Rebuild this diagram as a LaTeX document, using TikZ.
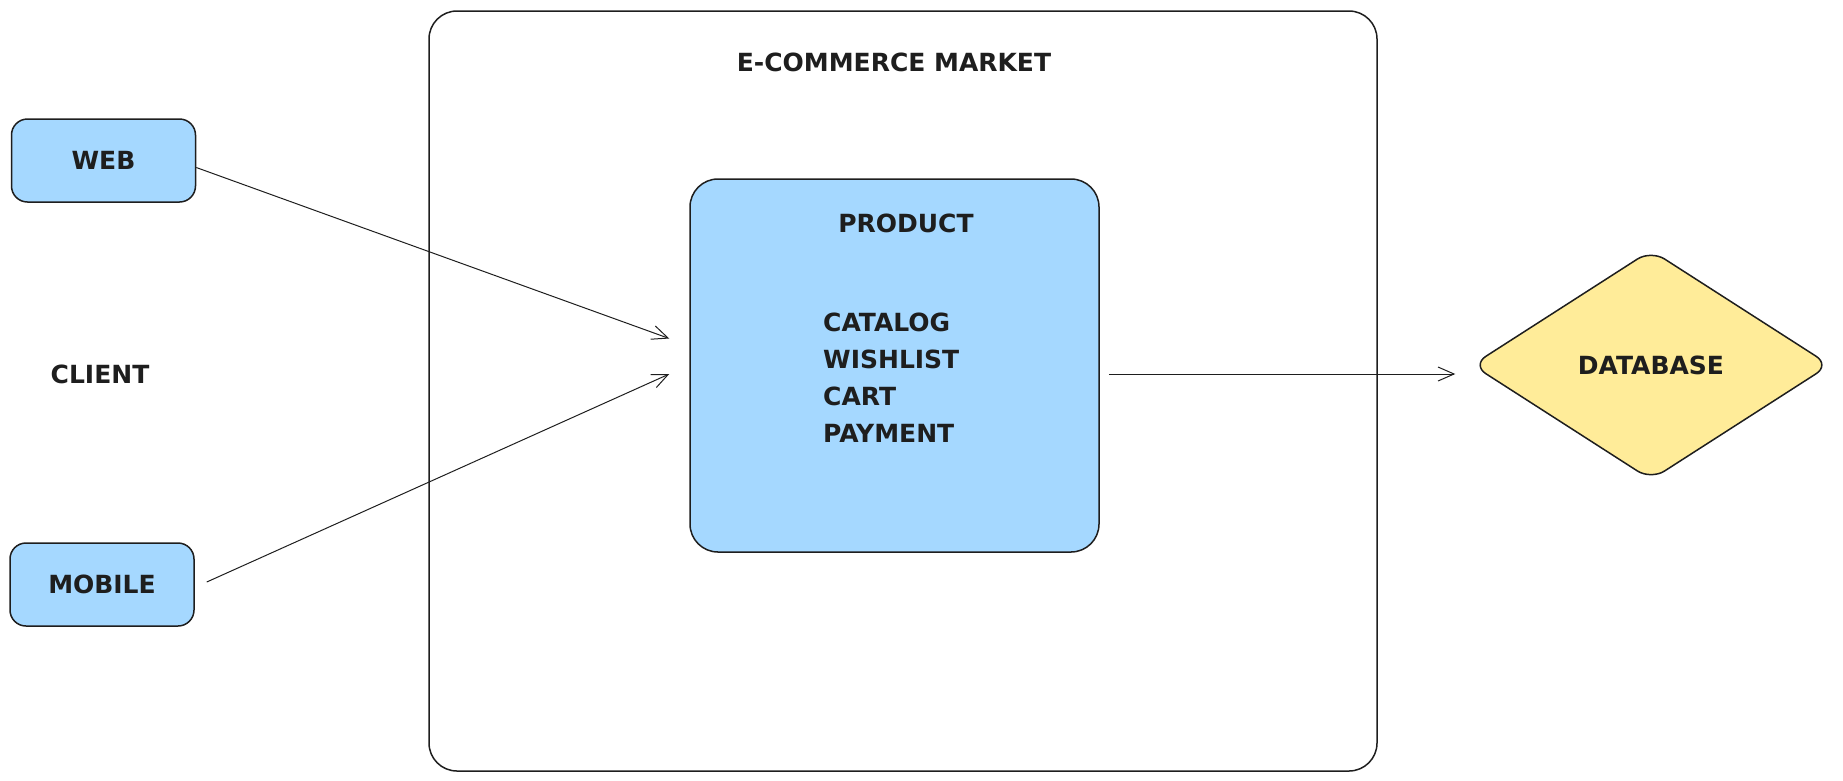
\documentclass[tikz,border=0pt]{standalone}
\usepackage{fontspec}
\setmainfont{DejaVu Sans}
\usetikzlibrary{shapes.geometric,arrows.meta,calc}
\definecolor{stroke}{HTML}{1E1E1E}
\definecolor{bluefill}{HTML}{A5D8FF}
\definecolor{yellowfill}{HTML}{FFEC99}
\begin{document}
\begin{tikzpicture}[x=1pt,y=-1pt,
  every node/.style={font=\fontsize{25}{37}\selectfont\bfseries, text=stroke},
  clientbox/.style={draw=stroke, line width=1.5pt, fill=bluefill, rounded corners=16pt, minimum width=184pt, minimum height=83pt, inner sep=0},
  conn/.style={draw=stroke, line width=1pt, -{Straight Barb[length=16pt,width=14pt,line width=1pt]}}]
\useasboundingbox (0,0) rectangle (1843,780);
% outer container
\node[draw=stroke, line width=1.5pt, rounded corners=28pt, minimum width=948pt, minimum height=760pt, inner sep=0] (market) at (903,391) {};
\node (markettitle) at (894,62) {E-COMMERCE MARKET};
% clients
\node[clientbox] (web) at (103.5,160.5) {WEB};
\node[clientbox] (mobile) at (102,584.5) {MOBILE};
\node (client) at (100,374) {CLIENT};
% product
\node[draw=stroke, line width=1.5pt, fill=bluefill, rounded corners=28pt, minimum width=409pt, minimum height=373pt, inner sep=0] (prod) at (894.5,365.5) {};
\node (prodtitle) at (906,223) {PRODUCT};
\node[align=left, anchor=west, inner sep=0] (items) at (823,378) {CATALOG\\WISHLIST\\CART\\PAYMENT};
% database
\node[diamond, draw=stroke, line width=1.5pt, fill=yellowfill, rounded corners=16pt, minimum width=358pt, minimum height=230pt, inner sep=0] (db) at (1651,365) {DATABASE};
% connectors
\draw[conn] ($(web.east)+(0,7)$) -- ($(prod.west)+(-20,-27)$);
\draw[conn] ($(mobile.east)+(12,-2.5)$) -- ($(prod.west)+(-20,8.5)$);
\draw[conn] ($(prod.east)+(9,8.5)$) -- ($(db.west)+(-16,9)$);
\end{tikzpicture}
\end{document}
